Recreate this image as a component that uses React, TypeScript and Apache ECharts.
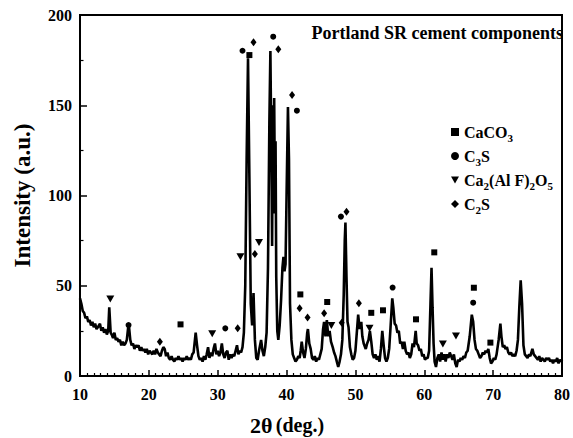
import React, { useEffect, useRef } from "react";
import * as echarts from "echarts";

const FONT = "'Liberation Serif', 'Times New Roman', serif";

// XRD pattern: [2θ (deg.), intensity (a.u.)]
const pattern: number[][] = [
  [10.0,43],[10.2,40],[10.4,36],[10.6,35],[10.8,32],[11.0,33],[11.2,30],[11.4,31],[11.6,28],[11.8,30],[12.0,27],[12.2,29],[12.4,26],[12.6,27],[12.9,29],[13.1,25],[13.3,27],[13.5,24],[13.7,26],[13.9,23],[14.1,25],[14.25,38],[14.45,24],[14.6,23],[14.8,21],[15.0,24],[15.2,20],[15.4,21],[15.6,19],[15.8,20],[16.0,17],[16.2,19],[16.4,17],[16.6,18],[16.8,20],[17.0,27],[17.1,28],[17.3,20],[17.5,17],[17.7,18],[17.9,15],[18.1,17],[18.3,16],[18.5,17],[18.7,14],[18.9,16],[19.1,14],[19.3,15],[19.5,13],[19.7,15],[19.9,12],[20.1,14],[20.3,13],[20.5,12],[20.7,14],[20.9,12],[21.1,15],[21.3,13],[21.5,12],[21.7,11],[21.9,14],[22.1,16],[22.3,15],[22.5,11],[22.7,13],[22.9,10],[23.1,9],[23.3,11],[23.5,9],[23.7,8],[23.9,10],[24.1,9],[24.3,11],[24.5,9],[24.7,10],[24.9,8],[25.1,10],[25.3,9],[25.5,11],[25.7,9],[25.9,10],[26.1,9],[26.3,12],[26.5,13],[26.8,24],[27.0,17],[27.2,11],[27.4,9],[27.6,10],[27.8,8],[28.0,11],[28.2,9],[28.4,12],[28.6,16],[28.8,10],[29.0,13],[29.2,11],[29.4,15],[29.6,18],[29.8,12],[30.0,14],[30.2,11],[30.4,13],[30.6,18],[30.8,12],[31.0,10],[31.2,13],[31.4,14],[31.6,9],[31.8,12],[32.0,10],[32.2,12],[32.4,11],[32.6,14],[32.8,17],[33.0,12],[33.2,14],[33.4,13],[33.6,16],[33.8,24],[34.0,50],[34.2,120],[34.4,176],[34.6,110],[34.8,40],[35.0,28],[35.2,46],[35.4,20],[35.6,10],[35.8,9],[36.0,14],[36.3,20],[36.5,14],[36.7,11],[36.9,16],[37.1,24],[37.3,60],[37.5,140],[37.65,180],[37.8,120],[37.9,72],[38.0,150],[38.1,90],[38.2,154],[38.3,100],[38.4,130],[38.5,55],[38.65,25],[38.8,20],[39.0,28],[39.2,42],[39.4,60],[39.55,66],[39.7,58],[39.85,62],[40.0,100],[40.2,149],[40.35,120],[40.5,40],[40.7,20],[40.9,12],[41.1,10],[41.3,8],[41.5,9],[41.7,11],[41.9,10],[42.05,14],[42.2,19],[42.4,13],[42.6,10],[42.8,15],[43.0,24],[43.1,26],[43.3,18],[43.5,15],[43.7,10],[43.9,9],[44.1,11],[44.3,8],[44.5,10],[44.7,9],[44.9,12],[45.1,15],[45.3,26],[45.45,30],[45.65,22],[45.85,31],[46.05,22],[46.25,25],[46.45,19],[46.7,16],[46.9,13],[47.1,11],[47.3,8],[47.5,5],[47.7,8],[47.9,12],[48.1,20],[48.3,45],[48.45,75],[48.55,85],[48.7,55],[48.85,30],[49.0,27],[49.2,16],[49.4,12],[49.6,9],[49.8,10],[50.0,14],[50.2,24],[50.4,34],[50.6,26],[50.85,30],[51.0,22],[51.2,18],[51.5,15],[51.7,18],[51.9,20],[52.1,25],[52.3,19],[52.5,12],[52.7,10],[52.9,12],[53.1,9],[53.3,11],[53.5,8],[53.7,15],[53.9,25],[54.1,17],[54.3,10],[54.5,8],[54.7,10],[54.9,15],[55.1,27],[55.35,43],[55.5,38],[55.7,29],[55.9,28],[56.1,24],[56.3,25],[56.5,18],[56.7,19],[56.9,15],[57.1,19],[57.3,14],[57.5,12],[57.7,13],[57.9,10],[58.1,12],[58.3,18],[58.5,16],[58.75,25],[58.9,18],[59.1,17],[59.3,14],[59.5,15],[59.7,11],[59.9,12],[60.1,9],[60.3,10],[60.5,10],[60.7,14],[60.9,40],[61.05,60],[61.2,38],[61.35,18],[61.5,8],[61.7,5],[61.9,10],[62.1,12],[62.3,8],[62.5,13],[62.7,9],[62.9,12],[63.1,8],[63.3,12],[63.5,10],[63.7,13],[63.9,11],[64.1,9],[64.3,12],[64.5,7],[64.7,5],[64.9,9],[65.1,8],[65.3,10],[65.5,9],[65.7,11],[65.9,10],[66.1,13],[66.3,14],[66.6,22],[66.9,34],[67.1,30],[67.3,20],[67.5,15],[67.7,14],[67.9,12],[68.1,10],[68.3,11],[68.5,13],[68.7,12],[68.9,14],[69.1,13],[69.3,15],[69.5,10],[69.7,7],[69.9,8],[70.1,10],[70.3,9],[70.5,12],[70.8,20],[71.05,29],[71.2,22],[71.4,16],[71.6,17],[71.8,15],[72.0,16],[72.2,13],[72.4,12],[72.6,13],[72.8,11],[73.0,12],[73.2,11],[73.4,14],[73.6,20],[73.8,38],[74.0,53],[74.2,40],[74.4,17],[74.6,12],[74.8,11],[75.0,10],[75.2,12],[75.4,11],[75.7,15],[75.9,12],[76.1,11],[76.3,10],[76.5,9],[76.7,11],[76.9,8],[77.1,10],[77.3,9],[77.5,8],[77.7,10],[77.9,9],[78.1,10],[78.3,8],[78.5,9],[78.7,7],[78.9,9],[79.1,8],[79.3,10],[79.5,7],[79.7,9],[79.9,8],[80.0,9]
];

// Phase markers [2θ, height]
const caco3Marks: number[][] = [[24.6,28.6],[34.6,177.8],[42.0,45.2],[45.9,41],[52.3,35],[54.0,36.4],[58.8,31.4],[61.45,68.5],[67.2,48.9],[69.6,18.5]];
const c3sMarks: number[][] = [[17.05,28.2],[31.1,26.4],[33.6,180.2],[38.06,188],[41.5,147],[47.9,88.3],[55.4,49],[67.1,40.6]];
const ferriteMarks: number[][] = [[14.4,42.7],[29.2,23.4],[33.3,66.1],[36.0,73.9],[46.5,28],[52.05,26.4],[62.7,17.7],[64.6,22.2]];
const c2sMarks: number[][] = [[21.6,19],[32.9,26.4],[35.2,184.9],[35.4,67.6],[38.8,181],[40.8,155.7],[41.9,37.5],[43.05,32.4],[45.45,34.7],[48.0,29.5],[48.7,91],[50.5,40.3]];

const phaseNames = ["CaCO3", "C3S", "Ca2(Al F)2O5", "C2S"];
const phaseRich: Record<string, string> = {
  "CaCO3": "{n|CaCO}{s|3}",
  "C3S": "{n|C}{s|3}{n|S}",
  "Ca2(Al F)2O5": "{n|Ca}{s|2}{n|(Al F)}{s|2}{n|O}{s|5}",
  "C2S": "{n|C}{s|2}{n|S}",
};

const title = "Portland SR cement components";
const xTicks = { min: 10, max: 80, interval: 10 };
const yTicks = { min: 0, max: 200, interval: 50 };

const TRI = "path://M0,0L10,0L5,9Z";

export default function App() {
  const ref = useRef<HTMLDivElement>(null);
  useEffect(() => {
    if (!ref.current) return;
    const chart = echarts.init(ref.current, undefined, { renderer: "svg" });
    const markerSeries = (name: string, data: number[][], symbol: string, size: any) => ({
      name,
      type: "scatter",
      data,
      symbol,
      symbolSize: size,
      itemStyle: { color: "#000", opacity: 1 },
      z: 3,
    });
    chart.setOption({
      animation: false,
      backgroundColor: "#fff",
      title: {
        text: title,
        right: 10,
        top: 24,
        padding: 0,
        textStyle: { fontFamily: FONT, fontWeight: "bold", fontSize: 18, color: "#000" },
      },
      grid: {
        left: 80,
        right: 9,
        top: 15,
        bottom: 62,
        show: true,
        borderColor: "#000",
        borderWidth: 2,
        backgroundColor: "transparent",
      },
      legend: {
        orient: "vertical",
        left: 451,
        top: 121,
        padding: 0,
        itemGap: 2,
        itemWidth: 8,
        itemHeight: 8,
        data: phaseNames,
        formatter: (n: string) => phaseRich[n] || n,
        itemStyle: { opacity: 1 },
        textStyle: {
          color: "#000",
          rich: {
            n: { fontFamily: FONT, fontWeight: "bold", fontSize: 16, color: "#000", lineHeight: 22 },
            s: { fontFamily: FONT, fontWeight: "bold", fontSize: 11, color: "#000", lineHeight: 22, padding: [11, 0, 0, 0] },
          },
        },
      },
      xAxis: {
        type: "value",
        min: xTicks.min,
        max: xTicks.max,
        interval: xTicks.interval,
        axisLine: { show: true, lineStyle: { color: "#000", width: 2 } },
        axisTick: { inside: true, length: 6, lineStyle: { color: "#000", width: 1.5 } },
        minorTick: { show: true, splitNumber: 10, length: 3, lineStyle: { color: "#000", width: 1.2 } },
        splitLine: { show: false },
        axisLabel: { fontFamily: FONT, fontWeight: "bold", fontSize: 16, color: "#000", margin: 10 },
      },
      yAxis: {
        type: "value",
        min: yTicks.min,
        max: yTicks.max,
        interval: yTicks.interval,
        name: "Intensity (a.u.)",
        nameLocation: "middle",
        nameGap: 46,
        nameTextStyle: { fontFamily: FONT, fontWeight: "bold", fontSize: 23, color: "#000" },
        axisLine: { show: true, lineStyle: { color: "#000", width: 2 } },
        axisTick: { inside: true, length: 7, lineStyle: { color: "#000", width: 1.5 } },
        minorTick: { show: true, splitNumber: 2, length: 3.5, lineStyle: { color: "#000", width: 1.2 } },
        splitLine: { show: false },
        axisLabel: { fontFamily: FONT, fontWeight: "bold", fontSize: 16, color: "#000", margin: 8 },
      },
      graphic: [
        {
          type: "text",
          left: 250,
          top: 414,
          style: {
            text: "{a|2θ} {b|(deg.)}",
            rich: {
              a: { fontFamily: FONT, fontWeight: "bold", fontSize: 22, fill: "#000" },
              b: { fontFamily: FONT, fontWeight: "bold", fontSize: 20, fill: "#000" },
            },
          },
        },
      ],
      series: [
        {
          name: "pattern",
          type: "line",
          data: pattern,
          showSymbol: false,
          symbol: "none",
          lineStyle: { color: "#000", width: 2.6 },
          z: 2,
        },
        markerSeries("CaCO3", caco3Marks, "rect", 6),
        markerSeries("C3S", c3sMarks, "circle", 6),
        markerSeries("Ca2(Al F)2O5", ferriteMarks, TRI, [8, 7]),
        markerSeries("C2S", c2sMarks, "diamond", [6, 8]),
      ],
    });
    return () => chart.dispose();
  }, []);
  return (
    <div
      ref={ref}
      style={{ position: "fixed", left: 0, top: 0, width: 573, height: 438, background: "#fff" }}
    />
  );
}
